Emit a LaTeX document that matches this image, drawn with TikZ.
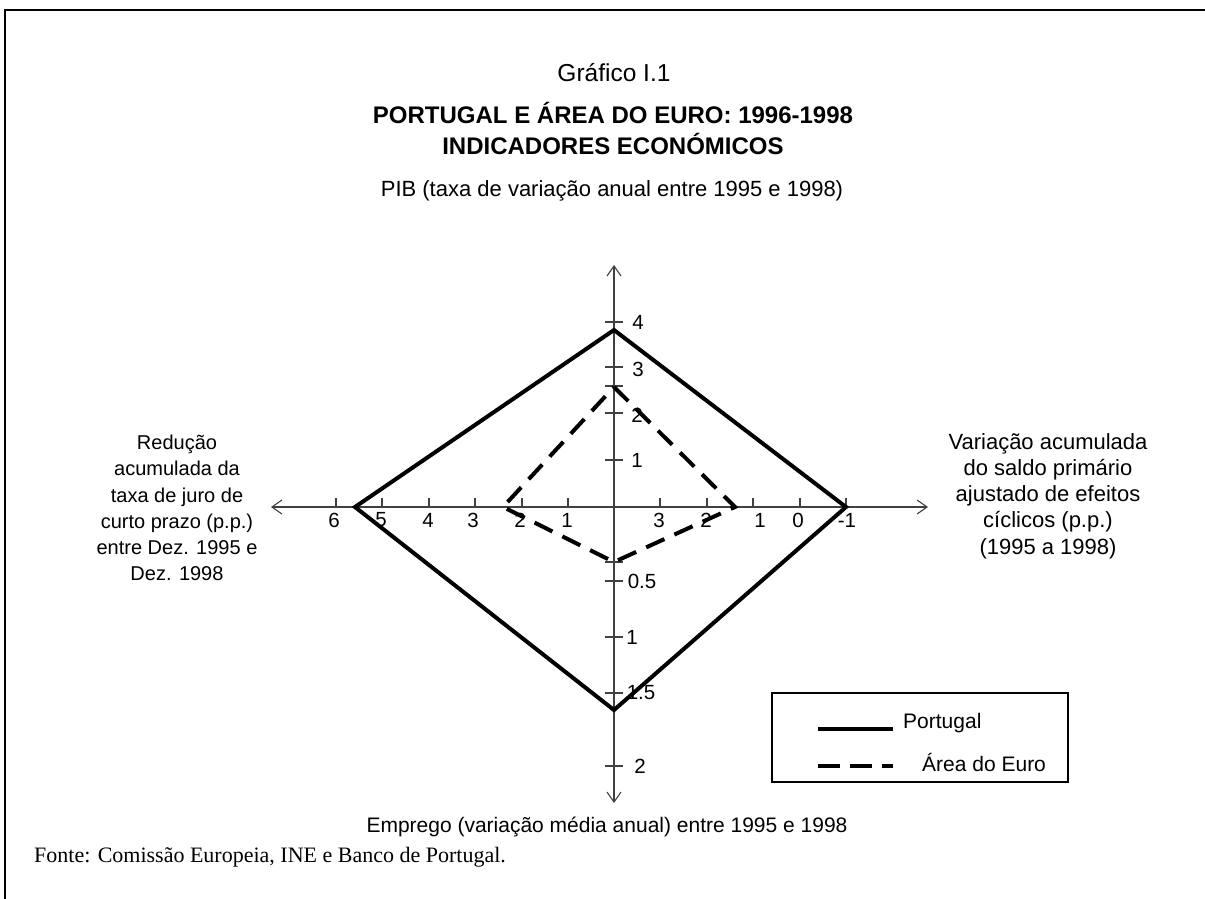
\documentclass[tikz,border=0pt]{standalone}
\usepackage{fontspec}
\setmainfont{Liberation Sans}
\newfontfamily\notefont{Liberation Serif}
\usetikzlibrary{arrows.meta}
\begin{document}
\begin{tikzpicture}[x=1pt,y=-1pt,
  axisline/.style={line width=1.1pt, draw=black!75, -{Straight Barb[length=10pt,width=14pt,line width=1.1pt]}},
  tickline/.style={line width=1.1pt, draw=black!75},
  ptline/.style={line width=4pt, line join=miter},
  euline/.style={line width=4pt, dash pattern=on 20pt off 11pt},
  ticklab/.style={font=\fontsize{20.5}{24}\selectfont, inner sep=0pt},
  sidelab/.style={align=center, inner sep=0pt},
  maintxt/.style={font=\fontsize{21.5}{26}\selectfont, inner sep=0pt},
  titlebf/.style={font=\fontsize{24}{28}\selectfont\bfseries, inner sep=0pt}
]
\useasboundingbox (0,0) rectangle (1205,899);
\fill[white] (0,0) rectangle (1205,899);
% frame
\draw[line width=1.5pt] (5,899) -- (5,10) -- (1205,10);

% titles
\node[maintxt, font=\fontsize{24.5}{28}\selectfont] (t1) at (614,73) {Gráfico I.1};
\node[titlebf] (t2) at (613,113) {PORTUGAL E ÁREA DO EURO: 1996-1998};
\node[titlebf] (t3) at (613,144) {INDICADORES ECONÓMICOS};
\node[maintxt, font=\fontsize{22}{26}\selectfont] (pib) at (612,191) {PIB (taxa de variação anual entre 1995 e 1998)};
\node[maintxt, font=\fontsize{21}{26}\selectfont] (emp) at (607,827) {Emprego (variação média anual) entre 1995 e 1998};
\node[anchor=west, inner sep=0pt, font=\notefont\fontsize{22}{26}\selectfont] (fonte) at (34,857) {Fonte: Comissão Europeia, INE e Banco de Portugal.};

% side labels
\node[sidelab, font=\fontsize{20}{26.2}\selectfont] (left) at (177,508) {Redução\\acumulada da\\taxa de juro de\\curto prazo (p.p.)\\entre Dez. 1995 e\\Dez. 1998};
\node[sidelab, font=\fontsize{22}{26.2}\selectfont] (right) at (1048,496) {Variação acumulada\\do saldo primário\\ajustado de efeitos\\cíclicos (p.p.)\\(1995 a 1998)};

% axes
\coordinate (O) at (614,507);
\coordinate (AT) at (614,265);
\coordinate (AB) at (614,803);
\coordinate (AL) at (271,507);
\coordinate (AR) at (928,507);
\draw[axisline] (O) -- (AT);
\draw[axisline] (O) -- (AB);
\draw[axisline] (O) -- (AL);
\draw[axisline] (O) -- (AR);

% vertical ticks
\foreach \yy in {322,367,386,413,460,562,581,637,693,766}
  \draw[tickline] (605,\yy) -- (623,\yy);
% horizontal ticks
\foreach \xx in {336,382,429,475,522,568,660,707,753,800,846}
  \draw[tickline] (\xx,498) -- (\xx,507);

% vertical tick labels
\node[ticklab] (v4) at (638,322) {4};
\node[ticklab] (v3) at (638,369) {3};
\node[ticklab] (v2) at (637,415) {2};
\node[ticklab] (v1) at (637,460) {1};
\node[ticklab] (v05) at (642,581) {0.5};
\node[ticklab] (vm1) at (632,637) {1};
\node[ticklab] (v15) at (641,693) {1.5};
\node[ticklab] (v2b) at (640,766) {2};
% horizontal tick labels
\node[ticklab] (h6) at (334,520) {6};
\node[ticklab] (h5) at (381,520) {5};
\node[ticklab] (h4) at (428,520) {4};
\node[ticklab] (h3) at (473,520) {3};
\node[ticklab] (h2) at (520,520) {2};
\node[ticklab] (h1) at (567,520) {1};
\node[ticklab] (r3) at (659,520) {3};
\node[ticklab] (r2) at (706,520) {2};
\node[ticklab] (r1) at (760,520) {1};
\node[ticklab] (r0) at (798,520) {0};
\node[ticklab] (rm1) at (847,520) {-1};

% Portugal (solid)
\coordinate (PT) at (614,330);
\coordinate (PR) at (846,507);
\coordinate (PB) at (614,710);
\coordinate (PL) at (355,507);
\draw[ptline] (PT) -- (PR) -- (PB) -- (PL) -- cycle;

% Euro area (dashed)
\coordinate (ET) at (614,387);
\coordinate (ER) at (735,507);
\coordinate (EB) at (614,562);
\coordinate (EL) at (503,507);
\draw[euline] (ET) -- (ER) -- (EB) -- (EL) -- cycle;

% legend
\node[draw, line width=1.2pt, minimum width=296pt, minimum height=89pt, inner sep=0pt] (legend) at (920,737.5) {};
\coordinate (l1a) at (818,729);
\coordinate (l1b) at (893,729);
\coordinate (l2a) at (818,766);
\coordinate (l2b) at (893,766);
\draw[line width=4pt] (l1a) -- (l1b);
\draw[line width=4pt, dash pattern=on 22pt off 10pt] (l2a) -- (l2b);
\node[maintxt, anchor=west, font=\fontsize{21}{24}\selectfont] (lp) at (903,723) {Portugal};
\node[maintxt, anchor=west, font=\fontsize{21}{24}\selectfont] (le) at (922,762) {Área do Euro};
\end{tikzpicture}
\end{document}
